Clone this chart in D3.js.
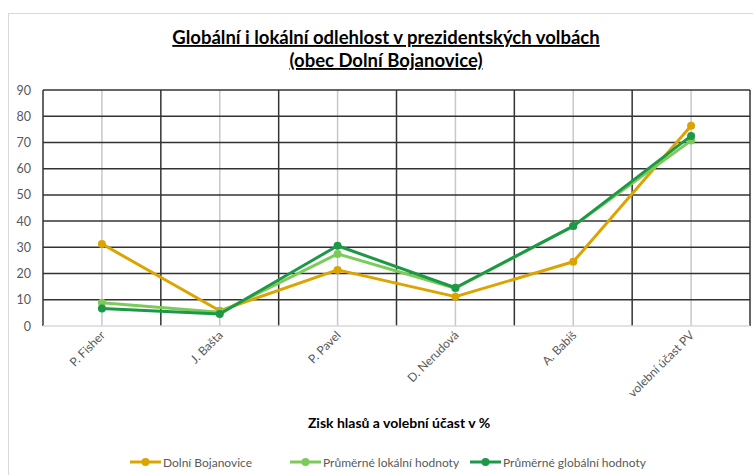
<!DOCTYPE html>
<html>
<head>
<meta charset="utf-8">
<script src="https://cdn.jsdelivr.net/npm/d3@7"></script>
<style>
  body { margin: 0; background: #fff; }
  text { font-family: Lato, "Open Sans", sans-serif; }
</style>
</head>
<body>
<svg id="chart" width="753" height="475"></svg>
<script>
// categories and series
const categories = ["P. Fisher", "J. Bašta", "P. Pavel", "D. Nerudová", "A. Babiš", "volební účast PV"];
const dolniBojanovice = [31.3, 5.8, 21.4, 11.2, 24.5, 76.4];
const lokalni = [8.9, 5.2, 27.5, 14.4, 38.1, 70.7];
const globalni = [6.7, 4.6, 30.6, 14.6, 38.1, 72.5];
const yTicks = [0, 10, 20, 30, 40, 50, 60, 70, 80, 90];

const series = [
    { name: "Dolní Bojanovice", values: dolniBojanovice, color: "#dca400" },
    { name: "Průměrné lokální hodnoty", values: lokalni, color: "#7ccb5a" },
    { name: "Průměrné globální hodnoty", values: globalni, color: "#1d9847" }
];

const margin = { top: 90, left: 43, right: 3, bottom: 149 };
const width = 753, height = 475;

const svg = d3.select("#chart");

// outer chart border
svg.append("rect")
    .attr("x", 8.5).attr("y", 13.5)
    .attr("width", 760).attr("height", 480)
    .attr("fill", "none").attr("stroke", "#d9d9d9");

// title
const title = svg.append("text")
    .attr("x", 386).attr("y", 44)
    .attr("text-anchor", "middle")
    .attr("font-size", 18.5).attr("font-weight", "bold")
    .attr("text-decoration", "underline")
    .attr("fill", "#000");
title.append("tspan").attr("x", 386).text("Globální i lokální odlehlost v prezidentských volbách");
title.append("tspan").attr("x", 386).attr("dy", 23).text("(obec Dolní Bojanovice)");

//scales
const xScale = d3.scaleBand()
    .domain(categories)
    .range([margin.left, width - margin.right]);
const yScale = d3.scaleLinear()
    .domain([0, 90])
    .range([height - margin.bottom, margin.top]);

const x0 = xScale.range()[0], x1 = xScale.range()[1];

// vertical grid: light at category centers
svg.append("g")
    .selectAll("line")
    .data(categories)
    .join("line")
    .attr("x1", d => xScale(d) + xScale.bandwidth() / 2)
    .attr("x2", d => xScale(d) + xScale.bandwidth() / 2)
    .attr("y1", yScale(90)).attr("y2", yScale(0))
    .attr("stroke", "#c8c8c8").attr("stroke-width", 1.5);

// vertical grid: dark at category boundaries
svg.append("g")
    .selectAll("line")
    .data(categories.concat(["__end"]))
    .join("line")
    .attr("x1", (d, i) => i < categories.length ? xScale(d) : x1)
    .attr("x2", (d, i) => i < categories.length ? xScale(d) : x1)
    .attr("y1", yScale(90)).attr("y2", yScale(0))
    .attr("stroke", "#333").attr("stroke-width", 1.5);

// horizontal grid
svg.append("g")
    .selectAll("line")
    .data(yTicks.filter(d => d > 0))
    .join("line")
    .attr("x1", x0).attr("x2", x1)
    .attr("y1", d => yScale(d)).attr("y2", d => yScale(d))
    .attr("stroke", "#333").attr("stroke-width", 1.5);

// x axis baseline
svg.append("line")
    .attr("x1", x0).attr("x2", x1)
    .attr("y1", yScale(0)).attr("y2", yScale(0))
    .attr("stroke", "#d9d9d9").attr("stroke-width", 1.5);

// y axis labels
svg.append("g")
    .selectAll("text")
    .data(yTicks)
    .join("text")
    .attr("x", 31).attr("y", d => yScale(d) + 4.5)
    .attr("text-anchor", "end")
    .attr("font-size", 12.5).attr("fill", "#595959")
    .text(d => d);

// x axis labels, rotated
svg.append("g")
    .selectAll("text")
    .data(categories)
    .join("text")
    .attr("transform", d => `translate(${xScale(d) + xScale.bandwidth() / 2 + 4}, 336) rotate(-45)`)
    .attr("text-anchor", "end")
    .attr("font-size", 12).attr("fill", "#595959")
    .text(d => d);

// axis title
svg.append("text")
    .attr("x", 399).attr("y", 428)
    .attr("text-anchor", "middle")
    .attr("font-size", 14).attr("font-weight", "bold")
    .attr("fill", "#000")
    .text("Zisk hlasů a volební účast v %");

//lines
const createLine = d3.line()
    .x((d, i) => xScale(categories[i]) + xScale.bandwidth() / 2)
    .y(d => yScale(d));

const sg = svg.append("g")
    .selectAll("g")
    .data(series)
    .join("g");

sg.append("path")
    .attr("d", d => createLine(d.values))
    .attr("fill", "none")
    .attr("stroke", d => d.color)
    .attr("stroke-width", 3)
    .attr("stroke-linejoin", "round");

sg.each(function (s) {
    d3.select(this).selectAll("circle")
        .data(s.values)
        .join("circle")
        .attr("cx", (d, i) => xScale(categories[i]) + xScale.bandwidth() / 2)
        .attr("cy", d => yScale(d))
        .attr("r", 4)
        .attr("fill", s.color);
});

// legend
const legendX = [130, 290, 470];
const legend = svg.append("g")
    .selectAll("g")
    .data(series)
    .join("g")
    .attr("transform", (d, i) => `translate(${legendX[i]}, 462)`);

legend.append("line")
    .attr("x1", 0).attr("x2", 31)
    .attr("stroke", d => d.color).attr("stroke-width", 3);
legend.append("circle")
    .attr("cx", 15.5).attr("r", 4)
    .attr("fill", d => d.color);
legend.append("text")
    .attr("x", 33).attr("y", 4.5)
    .attr("font-size", 12).attr("fill", "#595959")
    .text(d => d.name);
</script>
</body>
</html>
